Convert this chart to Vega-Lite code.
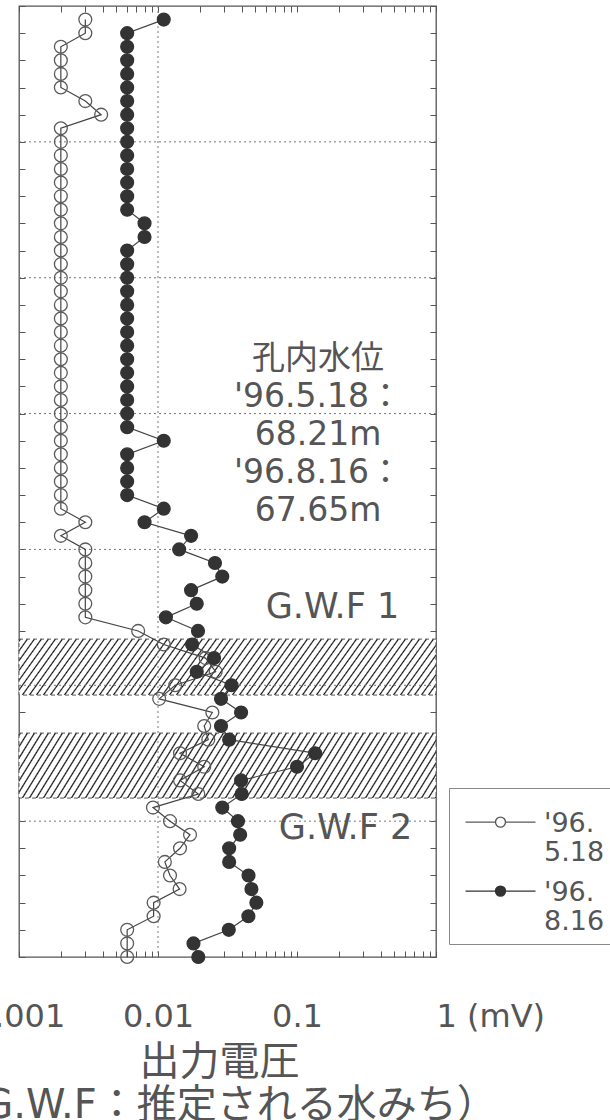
{
"$schema":"https://vega.github.io/schema/vega-lite/v6.json",
"width":417,"height":951,
"autosize":{"type":"none"},
"padding":{"left":19,"top":6,"right":174,"bottom":163},
"background":"white",
"config":{"view":{"stroke":"#555","strokeWidth":1.3},"font":"DejaVu Sans","axis":{"domain":false,"grid":false,"tickColor":"#555","tickWidth":1}},
"datasets":{
"bands":[{"top":23.3,"bottom":25.36},{"top":26.76,"bottom":29.15}],
"gridY":[{"g":5},{"g":10},{"g":15},{"g":20},{"g":25},{"g":30}],
"gridX":[{"g":0.01}],
"notes":[{"x":0.1416,"d":12.42,"t":"孔内水位|'96.5.18：|68.21m|'96.8.16：|67.65m"}],
"gwf":[{"x":0.18,"d":22.12,"t":"G.W.F 1"},{"x":0.2234,"d":30.25,"t":"G.W.F 2"}],
"profiles":[
{"s":"'96. 5.18","d":0.5,"v":0.003},{"s":"'96. 5.18","d":1,"v":0.003},{"s":"'96. 5.18","d":1.5,"v":0.002},{"s":"'96. 5.18","d":2,"v":0.002},{"s":"'96. 5.18","d":2.5,"v":0.002},{"s":"'96. 5.18","d":3,"v":0.002},{"s":"'96. 5.18","d":3.5,"v":0.003},{"s":"'96. 5.18","d":4,"v":0.0039},{"s":"'96. 5.18","d":4.5,"v":0.002},{"s":"'96. 5.18","d":5,"v":0.002},
{"s":"'96. 5.18","d":5.5,"v":0.002},{"s":"'96. 5.18","d":6,"v":0.002},{"s":"'96. 5.18","d":6.5,"v":0.002},{"s":"'96. 5.18","d":7,"v":0.002},{"s":"'96. 5.18","d":7.5,"v":0.002},{"s":"'96. 5.18","d":8,"v":0.002},{"s":"'96. 5.18","d":8.5,"v":0.002},{"s":"'96. 5.18","d":9,"v":0.002},{"s":"'96. 5.18","d":9.5,"v":0.002},{"s":"'96. 5.18","d":10,"v":0.002},
{"s":"'96. 5.18","d":10.5,"v":0.002},{"s":"'96. 5.18","d":11,"v":0.002},{"s":"'96. 5.18","d":11.5,"v":0.002},{"s":"'96. 5.18","d":12,"v":0.002},{"s":"'96. 5.18","d":12.5,"v":0.002},{"s":"'96. 5.18","d":13,"v":0.002},{"s":"'96. 5.18","d":13.5,"v":0.002},{"s":"'96. 5.18","d":14,"v":0.002},{"s":"'96. 5.18","d":14.5,"v":0.002},{"s":"'96. 5.18","d":15,"v":0.002},
{"s":"'96. 5.18","d":15.5,"v":0.002},{"s":"'96. 5.18","d":16,"v":0.002},{"s":"'96. 5.18","d":16.5,"v":0.002},{"s":"'96. 5.18","d":17,"v":0.002},{"s":"'96. 5.18","d":17.5,"v":0.002},{"s":"'96. 5.18","d":18,"v":0.002},{"s":"'96. 5.18","d":18.5,"v":0.002},{"s":"'96. 5.18","d":19,"v":0.003},{"s":"'96. 5.18","d":19.5,"v":0.002},{"s":"'96. 5.18","d":20,"v":0.003},
{"s":"'96. 5.18","d":20.5,"v":0.003},{"s":"'96. 5.18","d":21,"v":0.003},{"s":"'96. 5.18","d":21.5,"v":0.003},{"s":"'96. 5.18","d":22,"v":0.003},{"s":"'96. 5.18","d":22.5,"v":0.003},{"s":"'96. 5.18","d":23,"v":0.0072},{"s":"'96. 5.18","d":23.5,"v":0.011},{"s":"'96. 5.18","d":24,"v":0.022},{"s":"'96. 5.18","d":24.5,"v":0.026},{"s":"'96. 5.18","d":25,"v":0.0133},
{"s":"'96. 5.18","d":25.5,"v":0.0102},{"s":"'96. 5.18","d":26,"v":0.0246},{"s":"'96. 5.18","d":26.5,"v":0.0215},{"s":"'96. 5.18","d":27,"v":0.023},{"s":"'96. 5.18","d":27.5,"v":0.0144},{"s":"'96. 5.18","d":28,"v":0.0215},{"s":"'96. 5.18","d":28.5,"v":0.0144},{"s":"'96. 5.18","d":29,"v":0.0195},{"s":"'96. 5.18","d":29.5,"v":0.0092},{"s":"'96. 5.18","d":30,"v":0.0122},
{"s":"'96. 5.18","d":30.5,"v":0.017},{"s":"'96. 5.18","d":31,"v":0.0144},{"s":"'96. 5.18","d":31.5,"v":0.0112},{"s":"'96. 5.18","d":32,"v":0.0122},{"s":"'96. 5.18","d":32.5,"v":0.0143},{"s":"'96. 5.18","d":33,"v":0.0093},{"s":"'96. 5.18","d":33.5,"v":0.0093},{"s":"'96. 5.18","d":34,"v":0.006},{"s":"'96. 5.18","d":34.5,"v":0.006},{"s":"'96. 5.18","d":35,"v":0.006},
{"s":"'96. 8.16","d":0.5,"v":0.011},{"s":"'96. 8.16","d":1,"v":0.006},{"s":"'96. 8.16","d":1.5,"v":0.006},{"s":"'96. 8.16","d":2,"v":0.006},{"s":"'96. 8.16","d":2.5,"v":0.006},{"s":"'96. 8.16","d":3,"v":0.006},{"s":"'96. 8.16","d":3.5,"v":0.006},{"s":"'96. 8.16","d":4,"v":0.006},{"s":"'96. 8.16","d":4.5,"v":0.006},{"s":"'96. 8.16","d":5,"v":0.006},
{"s":"'96. 8.16","d":5.5,"v":0.006},{"s":"'96. 8.16","d":6,"v":0.006},{"s":"'96. 8.16","d":6.5,"v":0.006},{"s":"'96. 8.16","d":7,"v":0.006},{"s":"'96. 8.16","d":7.5,"v":0.006},{"s":"'96. 8.16","d":8,"v":0.008},{"s":"'96. 8.16","d":8.5,"v":0.008},{"s":"'96. 8.16","d":9,"v":0.006},{"s":"'96. 8.16","d":9.5,"v":0.006},{"s":"'96. 8.16","d":10,"v":0.006},
{"s":"'96. 8.16","d":10.5,"v":0.006},{"s":"'96. 8.16","d":11,"v":0.006},{"s":"'96. 8.16","d":11.5,"v":0.006},{"s":"'96. 8.16","d":12,"v":0.006},{"s":"'96. 8.16","d":12.5,"v":0.006},{"s":"'96. 8.16","d":13,"v":0.006},{"s":"'96. 8.16","d":13.5,"v":0.006},{"s":"'96. 8.16","d":14,"v":0.006},{"s":"'96. 8.16","d":14.5,"v":0.006},{"s":"'96. 8.16","d":15,"v":0.006},
{"s":"'96. 8.16","d":15.5,"v":0.006},{"s":"'96. 8.16","d":16,"v":0.011},{"s":"'96. 8.16","d":16.5,"v":0.006},{"s":"'96. 8.16","d":17,"v":0.006},{"s":"'96. 8.16","d":17.5,"v":0.006},{"s":"'96. 8.16","d":18,"v":0.006},{"s":"'96. 8.16","d":18.5,"v":0.011},{"s":"'96. 8.16","d":19,"v":0.008},{"s":"'96. 8.16","d":19.5,"v":0.0173},{"s":"'96. 8.16","d":20,"v":0.0142},
{"s":"'96. 8.16","d":20.5,"v":0.0257},{"s":"'96. 8.16","d":21,"v":0.029},{"s":"'96. 8.16","d":21.5,"v":0.0173},{"s":"'96. 8.16","d":22,"v":0.019},{"s":"'96. 8.16","d":22.5,"v":0.0114},{"s":"'96. 8.16","d":23,"v":0.0194},{"s":"'96. 8.16","d":23.5,"v":0.0176},{"s":"'96. 8.16","d":24,"v":0.0253},{"s":"'96. 8.16","d":24.5,"v":0.019},{"s":"'96. 8.16","d":25,"v":0.0338},
{"s":"'96. 8.16","d":25.5,"v":0.0284},{"s":"'96. 8.16","d":26,"v":0.0396},{"s":"'96. 8.16","d":26.5,"v":0.0284},{"s":"'96. 8.16","d":27,"v":0.0325},{"s":"'96. 8.16","d":27.5,"v":0.135},{"s":"'96. 8.16","d":28,"v":0.1},{"s":"'96. 8.16","d":28.5,"v":0.0396},{"s":"'96. 8.16","d":29,"v":0.04},{"s":"'96. 8.16","d":29.5,"v":0.029},{"s":"'96. 8.16","d":30,"v":0.0376},
{"s":"'96. 8.16","d":30.5,"v":0.039},{"s":"'96. 8.16","d":31,"v":0.0325},{"s":"'96. 8.16","d":31.5,"v":0.0325},{"s":"'96. 8.16","d":32,"v":0.0448},{"s":"'96. 8.16","d":32.5,"v":0.047},{"s":"'96. 8.16","d":33,"v":0.051},{"s":"'96. 8.16","d":33.5,"v":0.0447},{"s":"'96. 8.16","d":34,"v":0.0323},{"s":"'96. 8.16","d":34.5,"v":0.018},{"s":"'96. 8.16","d":35,"v":0.0195}
]},
"layer":[
{"data":{"name":"bands"},
 "mark":{"type":"rect","stroke":"#555","strokeWidth":1,"strokeDash":[4,3],
  "fill":{"gradient":"linear","x1":0,"y1":0,"x2":1.109,"y2":0.1064,"stops":[
{"offset":0,"color":"#fff"},{"offset":0.003,"color":"#111"},{"offset":0.006,"color":"#fff"},
{"offset":0.015,"color":"#fff"},{"offset":0.018,"color":"#111"},{"offset":0.021,"color":"#fff"},
{"offset":0.03,"color":"#fff"},{"offset":0.033,"color":"#111"},{"offset":0.036,"color":"#fff"},
{"offset":0.045,"color":"#fff"},{"offset":0.048,"color":"#111"},{"offset":0.051,"color":"#fff"},
{"offset":0.06,"color":"#fff"},{"offset":0.063,"color":"#111"},{"offset":0.066,"color":"#fff"},
{"offset":0.075,"color":"#fff"},{"offset":0.078,"color":"#111"},{"offset":0.081,"color":"#fff"},
{"offset":0.09,"color":"#fff"},{"offset":0.093,"color":"#111"},{"offset":0.096,"color":"#fff"},
{"offset":0.105,"color":"#fff"},{"offset":0.108,"color":"#111"},{"offset":0.111,"color":"#fff"},
{"offset":0.12,"color":"#fff"},{"offset":0.123,"color":"#111"},{"offset":0.126,"color":"#fff"},
{"offset":0.135,"color":"#fff"},{"offset":0.138,"color":"#111"},{"offset":0.141,"color":"#fff"},
{"offset":0.15,"color":"#fff"},{"offset":0.153,"color":"#111"},{"offset":0.156,"color":"#fff"},
{"offset":0.165,"color":"#fff"},{"offset":0.168,"color":"#111"},{"offset":0.171,"color":"#fff"},
{"offset":0.18,"color":"#fff"},{"offset":0.183,"color":"#111"},{"offset":0.186,"color":"#fff"},
{"offset":0.195,"color":"#fff"},{"offset":0.198,"color":"#111"},{"offset":0.201,"color":"#fff"},
{"offset":0.21,"color":"#fff"},{"offset":0.213,"color":"#111"},{"offset":0.216,"color":"#fff"},
{"offset":0.225,"color":"#fff"},{"offset":0.228,"color":"#111"},{"offset":0.231,"color":"#fff"},
{"offset":0.24,"color":"#fff"},{"offset":0.243,"color":"#111"},{"offset":0.246,"color":"#fff"},
{"offset":0.255,"color":"#fff"},{"offset":0.258,"color":"#111"},{"offset":0.261,"color":"#fff"},
{"offset":0.27,"color":"#fff"},{"offset":0.273,"color":"#111"},{"offset":0.276,"color":"#fff"},
{"offset":0.285,"color":"#fff"},{"offset":0.288,"color":"#111"},{"offset":0.291,"color":"#fff"},
{"offset":0.3,"color":"#fff"},{"offset":0.303,"color":"#111"},{"offset":0.306,"color":"#fff"},
{"offset":0.315,"color":"#fff"},{"offset":0.318,"color":"#111"},{"offset":0.321,"color":"#fff"},
{"offset":0.33,"color":"#fff"},{"offset":0.333,"color":"#111"},{"offset":0.336,"color":"#fff"},
{"offset":0.345,"color":"#fff"},{"offset":0.348,"color":"#111"},{"offset":0.351,"color":"#fff"},
{"offset":0.36,"color":"#fff"},{"offset":0.363,"color":"#111"},{"offset":0.366,"color":"#fff"},
{"offset":0.375,"color":"#fff"},{"offset":0.378,"color":"#111"},{"offset":0.381,"color":"#fff"},
{"offset":0.39,"color":"#fff"},{"offset":0.393,"color":"#111"},{"offset":0.396,"color":"#fff"},
{"offset":0.405,"color":"#fff"},{"offset":0.408,"color":"#111"},{"offset":0.411,"color":"#fff"},
{"offset":0.42,"color":"#fff"},{"offset":0.423,"color":"#111"},{"offset":0.426,"color":"#fff"},
{"offset":0.435,"color":"#fff"},{"offset":0.438,"color":"#111"},{"offset":0.441,"color":"#fff"},
{"offset":0.45,"color":"#fff"},{"offset":0.453,"color":"#111"},{"offset":0.456,"color":"#fff"},
{"offset":0.465,"color":"#fff"},{"offset":0.468,"color":"#111"},{"offset":0.471,"color":"#fff"},
{"offset":0.48,"color":"#fff"},{"offset":0.483,"color":"#111"},{"offset":0.486,"color":"#fff"},
{"offset":0.495,"color":"#fff"},{"offset":0.498,"color":"#111"},{"offset":0.501,"color":"#fff"},
{"offset":0.51,"color":"#fff"},{"offset":0.513,"color":"#111"},{"offset":0.516,"color":"#fff"},
{"offset":0.525,"color":"#fff"},{"offset":0.528,"color":"#111"},{"offset":0.531,"color":"#fff"},
{"offset":0.54,"color":"#fff"},{"offset":0.543,"color":"#111"},{"offset":0.546,"color":"#fff"},
{"offset":0.555,"color":"#fff"},{"offset":0.558,"color":"#111"},{"offset":0.561,"color":"#fff"},
{"offset":0.57,"color":"#fff"},{"offset":0.573,"color":"#111"},{"offset":0.576,"color":"#fff"},
{"offset":0.585,"color":"#fff"},{"offset":0.588,"color":"#111"},{"offset":0.591,"color":"#fff"},
{"offset":0.6,"color":"#fff"},{"offset":0.603,"color":"#111"},{"offset":0.606,"color":"#fff"},
{"offset":0.615,"color":"#fff"},{"offset":0.618,"color":"#111"},{"offset":0.621,"color":"#fff"},
{"offset":0.63,"color":"#fff"},{"offset":0.633,"color":"#111"},{"offset":0.636,"color":"#fff"},
{"offset":0.645,"color":"#fff"},{"offset":0.648,"color":"#111"},{"offset":0.651,"color":"#fff"},
{"offset":0.66,"color":"#fff"},{"offset":0.663,"color":"#111"},{"offset":0.666,"color":"#fff"},
{"offset":0.675,"color":"#fff"},{"offset":0.678,"color":"#111"},{"offset":0.681,"color":"#fff"},
{"offset":0.69,"color":"#fff"},{"offset":0.693,"color":"#111"},{"offset":0.696,"color":"#fff"},
{"offset":0.705,"color":"#fff"},{"offset":0.708,"color":"#111"},{"offset":0.711,"color":"#fff"},
{"offset":0.72,"color":"#fff"},{"offset":0.723,"color":"#111"},{"offset":0.726,"color":"#fff"},
{"offset":0.735,"color":"#fff"},{"offset":0.738,"color":"#111"},{"offset":0.741,"color":"#fff"},
{"offset":0.75,"color":"#fff"},{"offset":0.753,"color":"#111"},{"offset":0.756,"color":"#fff"},
{"offset":0.765,"color":"#fff"},{"offset":0.768,"color":"#111"},{"offset":0.771,"color":"#fff"},
{"offset":0.78,"color":"#fff"},{"offset":0.783,"color":"#111"},{"offset":0.786,"color":"#fff"},
{"offset":0.795,"color":"#fff"},{"offset":0.798,"color":"#111"},{"offset":0.801,"color":"#fff"},
{"offset":0.81,"color":"#fff"},{"offset":0.813,"color":"#111"},{"offset":0.816,"color":"#fff"},
{"offset":0.825,"color":"#fff"},{"offset":0.828,"color":"#111"},{"offset":0.831,"color":"#fff"},
{"offset":0.84,"color":"#fff"},{"offset":0.843,"color":"#111"},{"offset":0.846,"color":"#fff"},
{"offset":0.855,"color":"#fff"},{"offset":0.858,"color":"#111"},{"offset":0.861,"color":"#fff"},
{"offset":0.87,"color":"#fff"},{"offset":0.873,"color":"#111"},{"offset":0.876,"color":"#fff"},
{"offset":0.885,"color":"#fff"},{"offset":0.888,"color":"#111"},{"offset":0.891,"color":"#fff"},
{"offset":0.9,"color":"#fff"},{"offset":0.903,"color":"#111"},{"offset":0.906,"color":"#fff"},
{"offset":0.915,"color":"#fff"},{"offset":0.918,"color":"#111"},{"offset":0.921,"color":"#fff"},
{"offset":0.93,"color":"#fff"},{"offset":0.933,"color":"#111"},{"offset":0.936,"color":"#fff"},
{"offset":0.945,"color":"#fff"},{"offset":0.948,"color":"#111"},{"offset":0.951,"color":"#fff"},
{"offset":0.96,"color":"#fff"},{"offset":0.963,"color":"#111"},{"offset":0.966,"color":"#fff"},
{"offset":0.975,"color":"#fff"},{"offset":0.978,"color":"#111"},{"offset":0.981,"color":"#fff"},
{"offset":0.99,"color":"#fff"},{"offset":0.993,"color":"#111"},{"offset":0.996,"color":"#fff"}
]}},
 "encoding":{"y":{"field":"top","type":"quantitative","scale":{"domain":[0,35],"reverse":true,"nice":false},"axis":null},"y2":{"field":"bottom"}}},
{"data":{"name":"gridY"},"mark":{"type":"rule","stroke":"#777","strokeWidth":1,"strokeDash":[2,3]},
 "encoding":{"y":{"field":"g","type":"quantitative","axis":null}}},
{"data":{"name":"gridX"},"mark":{"type":"rule","stroke":"#777","strokeWidth":1,"strokeDash":[2,3]},
 "encoding":{"x":{"field":"g","type":"quantitative","scale":{"type":"log","domain":[0.001,1],"nice":false},"axis":null}}},
{"data":{"name":"profiles"},"mark":{"type":"line","stroke":"#444","strokeWidth":1.2},
 "encoding":{
  "x":{"field":"v","type":"quantitative","scale":{"type":"log","domain":[0.001,1],"nice":false},
   "axis":{"orient":"bottom","values":[0.001,0.002,0.003,0.004,0.005,0.006,0.007,0.008,0.009,0.01,0.02,0.03,0.04,0.05,0.06,0.07,0.08,0.09,0.1,0.2,0.3,0.4,0.5,0.6,0.7,0.8,0.9,1],
    "tickSize":-6,"labelFlush":false,"labelOverlap":false,"labelPadding":50,
    "labelExpr":"datum.value == 1 ? '1 (mV)' : datum.value == 0.1 ? '0.1' : datum.value == 0.01 ? '0.01' : datum.value == 0.001 ? '0.001' : ''",
    "labelAlign":{"condition":{"test":"datum.value == 1","value":"left"},"value":"center"},
    "labelFont":"DejaVu Sans","labelFontSize":32,"labelColor":"#555",
    "title":["出力電圧","（G.W.F：推定される水みち）"],"titleFont":"DejaVu Sans, Noto Sans CJK JP","titleFontSize":40,"titleFontWeight":"normal","titleColor":"#555","titlePadding":10,"titleLineHeight":43,"titleX":200}},
  "y":{"field":"d","type":"quantitative","scale":{"domain":[0,35],"reverse":true,"nice":false},
   "axis":{"orient":"left","tickCount":35,"tickSize":-6,"labels":false,"title":null}},
  "detail":{"field":"s","type":"nominal"},
  "order":{"field":"d","type":"quantitative"}}},
{"data":{"name":"profiles"},"mark":{"type":"point","filled":true,"size":165,"strokeWidth":1.3,"opacity":1},
 "encoding":{
  "x":{"field":"v","type":"quantitative","axis":{"orient":"top","values":[0.001,0.002,0.003,0.004,0.005,0.006,0.007,0.008,0.009,0.01,0.02,0.03,0.04,0.05,0.06,0.07,0.08,0.09,0.1,0.2,0.3,0.4,0.5,0.6,0.7,0.8,0.9,1],"tickSize":-6,"labels":false,"title":null}},
  "y":{"field":"d","type":"quantitative","axis":{"orient":"right","tickCount":35,"tickSize":-6,"labels":false,"title":null}},
  "fill":{"field":"s","type":"nominal","scale":{"domain":["'96. 5.18","'96. 8.16"],"range":["transparent","#333333"]},
   "legend":{"orient":"none","legendX":430,"legendY":782,"title":null,
    "symbolType":"M-7,2.32H-1M1,2.32H7M-1,2.32A1,1,0,1,1,1,2.32A1,1,0,1,1,-1,2.32Z",
    "symbolSize":100,"symbolStrokeWidth":1.4,"symbolOffset":29,"labelOffset":30,
    "labelExpr":"split(datum.label, ' ')","labelFont":"DejaVu Sans","labelFontSize":27,"labelColor":"#555","labelBaseline":"top",
    "padding":9,"rowPadding":-4,"strokeColor":"#888",
    "encode":{"symbols":{"update":{"size":{"value":100}}},"labels":{"update":{"lineHeight":{"value":32}}}}}},
  "stroke":{"field":"s","type":"nominal","scale":{"domain":["'96. 5.18","'96. 8.16"],"range":["#5a5a5a","#333333"]},
   "legend":{"orient":"none","legendX":430,"legendY":782,"title":null,
    "symbolType":"M-7,2.32H-1M1,2.32H7M-1,2.32A1,1,0,1,1,1,2.32A1,1,0,1,1,-1,2.32Z",
    "symbolSize":100,"symbolStrokeWidth":1.4,"symbolOffset":29,"labelOffset":30,
    "labelExpr":"split(datum.label, ' ')","labelFont":"DejaVu Sans","labelFontSize":27,"labelColor":"#555","labelBaseline":"top",
    "padding":9,"rowPadding":-4,"strokeColor":"#888",
    "encode":{"symbols":{"update":{"size":{"value":100}}},"labels":{"update":{"lineHeight":{"value":32}}}}}}}},
{"data":{"name":"notes"},"mark":{"type":"text","font":"DejaVu Sans, Noto Sans CJK JP","fontSize":33,"lineBreak":"|","lineHeight":38,"baseline":"top","align":"center","color":"#555"},
 "encoding":{"x":{"field":"x","type":"quantitative","axis":null},"y":{"field":"d","type":"quantitative","axis":null},"text":{"field":"t","type":"nominal"}}},
{"data":{"name":"gwf"},"mark":{"type":"text","font":"DejaVu Sans","fontSize":35,"baseline":"middle","align":"center","color":"#555"},
 "encoding":{"x":{"field":"x","type":"quantitative","axis":null},"y":{"field":"d","type":"quantitative","axis":null},"text":{"field":"t","type":"nominal"}}}
],
"resolve":{"axis":{"x":"independent","y":"independent"}}
}
